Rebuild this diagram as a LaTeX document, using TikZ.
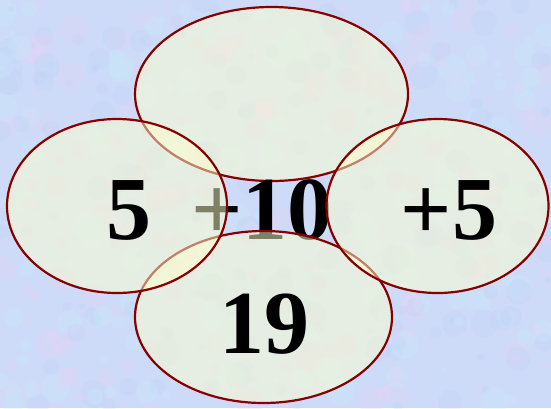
\documentclass[tikz,border=0pt]{standalone}
\usepackage{fontspec}
\setmainfont{Liberation Serif}
\usetikzlibrary{shapes.geometric}
\definecolor{bgbase}{RGB}{206,219,248}
\definecolor{bglav}{RGB}{230,210,246}
\definecolor{bgcyan}{RGB}{196,234,250}
\definecolor{bgblue}{RGB}{188,208,244}
\definecolor{ringred}{RGB}{135,0,0}
\definecolor{cream}{RGB}{255,255,205}
\tikzset{
  ring/.style={ellipse, draw=ringred, line width=2.2pt, fill=cream, fill opacity=0.5, inner sep=0pt},
  num/.style={font=\fontsize{90}{90}\selectfont\bfseries, inner sep=0pt, anchor=base, text=black}
}
\begin{document}
\begin{tikzpicture}[x=1pt,y=-1pt]
\useasboundingbox (0,0) rectangle (551,408);
\begin{scope}
\clip (0,0) rectangle (551,408);
\fill[bgbase] (0,0) rectangle (551,408);
\pgfmathsetseed{11}
\foreach \i in {1,...,520}{
  \pgfmathsetmacro\xx{random(0,551)}
  \pgfmathsetmacro\yy{random(0,408)}
  \pgfmathsetmacro\rr{random(3,14)}
  \pgfmathtruncatemacro\cc{random(1,3)}
  \ifcase\cc\or
    \fill[bglav, opacity=0.28] (\xx,\yy) circle (\rr);
  \or
    \fill[bgcyan, opacity=0.28] (\xx,\yy) circle (\rr);
  \or
    \fill[bgblue, opacity=0.22] (\xx,\yy) circle (\rr);
  \fi
}
\end{scope}
% top ring, under the +10
\node[ring, minimum width=273pt, minimum height=174pt] (topring) at (271.5,94) {};
\node[num] (t10) at (262,239) {+10};
\node[ring, minimum width=257pt, minimum height=172pt] (botring) at (263.5,317) {};
\node[ring, minimum width=220pt, minimum height=174pt] (leftring) at (117,206) {};
\node[ring, minimum width=222pt, minimum height=174pt] (rightring) at (437.5,206) {};
\node[num] (t5) at (129,239) {5};
\node[num] (tp5) at (449,239) {+5};
\node[num] (t19) at (264,353) {19};
\end{tikzpicture}
\end{document}
